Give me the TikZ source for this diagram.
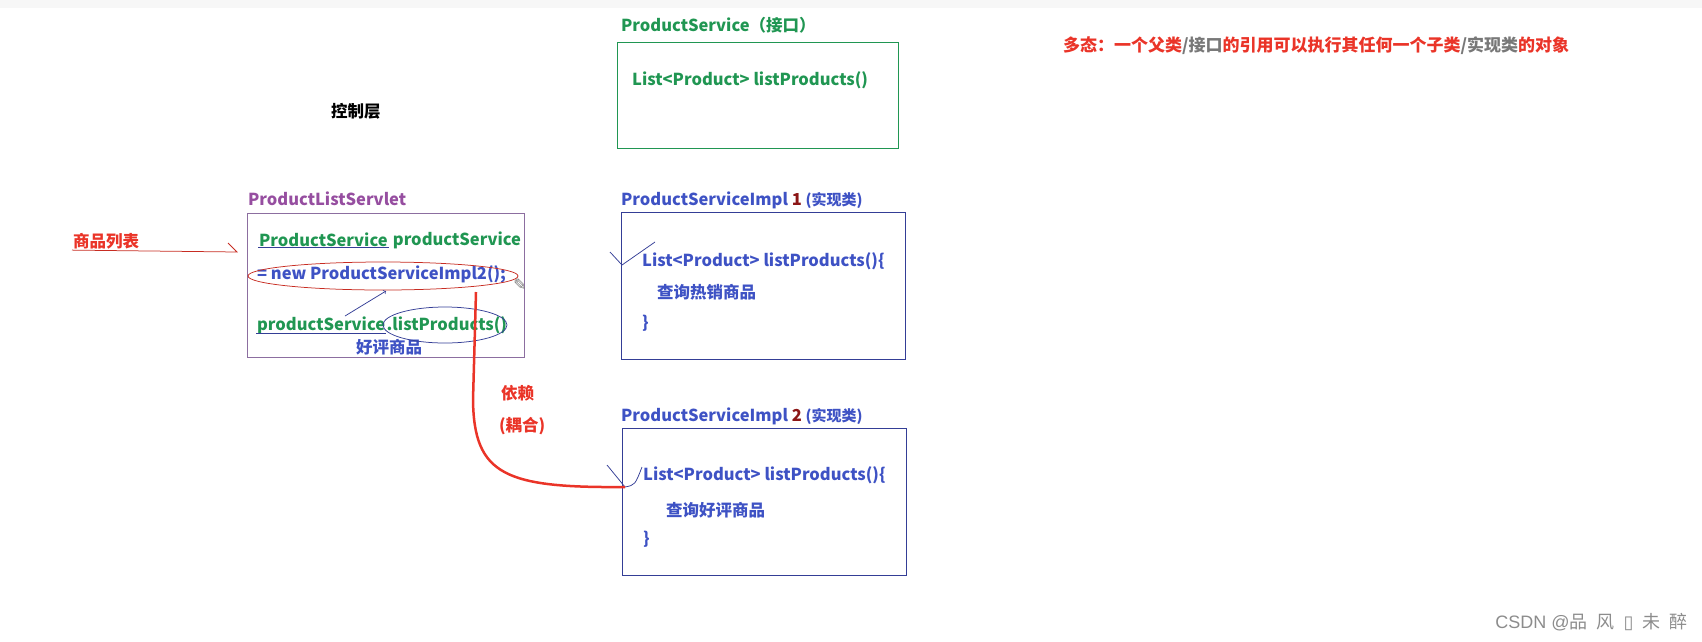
\documentclass[tikz,border=0pt]{standalone}
\usepackage{fontspec}
\setmainfont{Noto Sans CJK SC}
\newfontfamily\symfont{DejaVu Sans}
\newfontfamily\markfont{Liberation Sans}
\usetikzlibrary{calc}

\definecolor{psgreen}{RGB}{32,150,82}
\definecolor{psblue}{RGB}{62,82,196}
\definecolor{psnavy}{RGB}{52,62,150}
\definecolor{pspurple}{RGB}{150,78,160}
\definecolor{psframe}{RGB}{140,110,160}
\definecolor{psred}{RGB}{234,52,40}
\definecolor{psdark}{RGB}{140,22,22}
\definecolor{psgray}{RGB}{120,120,120}

\tikzset{every picture/.style={line width=0.75pt}}
\tikzset{
  txt/.style={inner sep=0.75pt, anchor=west, font=\bfseries\fontsize{16.5}{19}\selectfont},
  box/.style={draw, anchor=north west, inner sep=0pt},
}

\begin{document}
\begin{tikzpicture}[x=1pt,y=1pt,yscale=-1,xscale=1]
	\useasboundingbox (0,0) rectangle (1702,641);
	%top band
	\fill [black!3] (0,0) rectangle (1702,8);
	
	% Text Node
	\node (ctrl) [txt] at (330,111) {控制层};
	% Text Node
	\node (poly) [txt, text=psred, font=\bfseries\fontsize{17}{20}\selectfont] at (1062,46) {多态：一个父类\textcolor{psgray}{/接口}的引用可以执行其任何一个子类\textcolor{psgray}{/实现类}的对象};
	
	%Shape: Rectangle [interface]
	\node (iface) [box, draw=psgreen, minimum width=281, minimum height=106] at (617,42) {};
	% Text Node
	\node (ifaceLbl) [txt, text=psgreen] at (620,25) {ProductService（接口）};
	% Text Node
	\node (ifaceM) [txt, text=psgreen] at (631,80) {List<Product> listProducts()};
	
	%Shape: Rectangle [servlet]
	\node (servlet) [box, draw=psframe, minimum width=277, minimum height=144] at (247,213) {};
	% Text Node
	\node (servletLbl) [txt, text=pspurple] at (247,199) {ProductListServlet};
	% Text Node
	\node (l1a) [txt, text=psgreen] at (258,240) {ProductService};
	\node (l1b) [txt, text=psgreen] at ($(l1a.east)+(3,0)$) {productService};
	% Text Node
	\node (l2) [txt, text=psblue] at (256,274) {= new ProductServiceImpl2();};
	% Text Node
	\node (l3a) [txt, text=psgreen] at (256,325) {productService};
	\node (l3b) [txt, text=psgreen, inner sep=0pt] at (l3a.east) {.listProducts()};
	% Text Node
	\node (good) [txt, text=psblue, anchor=center] at (389,347) {好评商品};
	% Text Node
	\node (pen) [inner sep=0pt, text=psgray, font=\symfont\fontsize{16}{16}\selectfont] at (520,285) {✎};
	
	%Underlines
	\draw [psnavy] ($(l1a.south west)+(0,-1)$) -- ($(l1a.south east)+(0,-1)$) ;
	\draw [psnavy] ($(l3a.south west)+(0,-1)$) -- ($(l3a.south east)+(0,-1)$) ;
	%Shape: Ellipse
	\draw [psred!85!black] (383,276) ellipse [x radius=135, y radius=14] ;
	%Shape: Ellipse
	\draw [psnavy] (445,325) ellipse [x radius=62, y radius=18] ;
	%Straight Lines
	\coordinate (refFrom) at (345,316) ;
	\coordinate (refTo) at (386,291) ;
	\draw [psnavy, ->] (refFrom) -- (refTo) ;
	
	% Text Node
	\node (list) [txt, text=psred] at (72,241) {商品列表};
	\coordinate (listEnd) at (237,252) ;
	\draw [psred!85!black] (list.south west) -- (listEnd) -- (228,243) ;
	
	%Shape: Rectangle [impl 1]
	\node (implOne) [box, draw=psnavy, minimum width=284, minimum height=147] at (621,212) {};
	% Text Node
	\node (implOneLbl) [txt, text=psblue] at (620,200) {ProductServiceImpl \textcolor{psdark}{1} {\bfseries\fontsize{15}{17}\selectfont (实现类)}};
	% Text Node
	\node (implOneA) [txt, text=psblue] at (641,261) {List<Product> listProducts()\{};
	\node (implOneB) [txt, text=psblue] at (656,292) {查询热销商品};
	\node (implOneC) [txt, text=psblue] at (641,323) {\}};
	\draw [psnavy] (610,252) -- (622,265) -- (655,242) ;
	
	%Shape: Rectangle [impl 2]
	\node (implTwo) [box, draw=psnavy, minimum width=284, minimum height=147] at (622,428) {};
	% Text Node
	\node (implTwoLbl) [txt, text=psblue] at (620,416) {ProductServiceImpl \textcolor{psdark}{2} {\bfseries\fontsize{15}{17}\selectfont (实现类)}};
	% Text Node
	\node (implTwoA) [txt, text=psblue] at (642,475) {List<Product> listProducts()\{};
	\node (implTwoB) [txt, text=psblue] at (665,510) {查询好评商品};
	\node (implTwoC) [txt, text=psblue] at (642,539) {\}};
	\draw [psnavy] (607,465) -- (625,487) .. controls (635,485) .. (642,467) ;
	
	% Text Node
	\node (depA) [txt, text=psred] at (500,393) {依赖};
	\node (depB) [txt, text=psred] at (498,426) {(耦合)};
	%Curve
	\coordinate (depStart) at (476,292) ;
	\coordinate (depEnd) at (625,487) ;
	\draw [psred, line width=2.5pt] (depStart) -- (473,400) .. controls (474,475) and (505,488) .. (depEnd) ;
	
	% Text Node
	\node (mark) [inner sep=0pt, anchor=east, text=black!45, font=\fontsize{18}{20}\selectfont] at (1688,622) {{\markfont CSDN @}品\enspace 风\enspace{\symfont ▯}\enspace 未\enspace 醉};
	
\end{tikzpicture}
\end{document}
